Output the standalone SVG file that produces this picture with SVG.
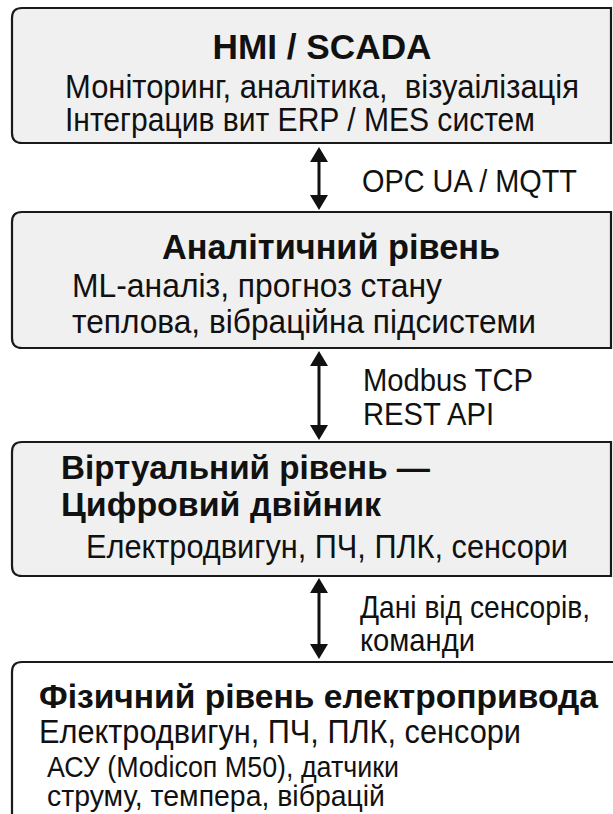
<svg xmlns="http://www.w3.org/2000/svg" width="613" height="814" viewBox="0 0 613 814">
<style>
.box{fill:#f0f0f0;stroke:#1a1a1a;stroke-width:2.2}
.box4{fill:#ffffff}
.edge{fill:none;stroke:#1a1a1a;stroke-width:2.2}
.t{font-family:"Liberation Sans",Arial,sans-serif;font-size:32.5px;fill:#111}
.l{font-family:"Liberation Sans",Arial,sans-serif;font-size:30.5px;fill:#111}
.s{font-family:"Liberation Sans",Arial,sans-serif;font-size:29px;fill:#111}
.b{font-family:"Liberation Sans",Arial,sans-serif;font-size:35px;font-weight:bold;fill:#111}
.b2{font-family:"Liberation Sans",Arial,sans-serif;font-size:33px;font-weight:bold;fill:#111}
.conn line{stroke:#111;stroke-width:3}
.conn path{fill:#111}
</style>
<g id="hmi">
<path class="box" d="M22 8 H611 V143 H22 Q12 143 12 133 V18 Q12 8 22 8 Z"/>
<text class="b" x="322" y="59" text-anchor="middle" textLength="219" lengthAdjust="spacingAndGlyphs">HMI / SCADA</text>
<text class="t" x="65" y="98" xml:space="preserve" textLength="514" lengthAdjust="spacingAndGlyphs">Моніторинг, аналітика,  візуаілізація</text>
<text class="t" x="65" y="131" textLength="470" lengthAdjust="spacingAndGlyphs">Інтеграцив вит ERP / MES систем</text>
</g>
<g id="analytic">
<path class="box" d="M22 212 H611 V348 H22 Q12 348 12 338 V222 Q12 212 22 212 Z"/>
<text class="b" x="331" y="259" text-anchor="middle" textLength="338" lengthAdjust="spacingAndGlyphs">Аналітичний рівень</text>
<text class="t" x="72" y="297" textLength="370" lengthAdjust="spacingAndGlyphs">ML-аналіз, прогноз стану</text>
<text class="t" x="72" y="333" textLength="464" lengthAdjust="spacingAndGlyphs">теплова, вібраційна підсистеми</text>
</g>
<g id="virtual">
<path class="box" d="M22 442 H611 V576 H22 Q12 576 12 566 V452 Q12 442 22 442 Z"/>
<text class="b2" x="61" y="479" textLength="369" lengthAdjust="spacingAndGlyphs">Віртуальний рівень —</text>
<text class="b2" x="61" y="516" textLength="320" lengthAdjust="spacingAndGlyphs">Цифровий двійник</text>
<text class="t" x="86" y="558" textLength="482" lengthAdjust="spacingAndGlyphs">Електродвигун, ПЧ, ПЛК, сенсори</text>
</g>
<g id="physical">
<rect class="box4" x="13" y="663" width="600" height="160"/>
<path class="edge" d="M22 662 H614 M12 820 V672 Q12 662 22 662"/>
<text class="b2" x="39" y="708" textLength="559" lengthAdjust="spacingAndGlyphs">Фізичний рівень електропривода</text>
<text class="t" x="39" y="743" textLength="482" lengthAdjust="spacingAndGlyphs">Електродвигун, ПЧ, ПЛК, сенсори</text>
<text class="s" x="47" y="777" textLength="352" lengthAdjust="spacingAndGlyphs">АСУ (Modicoп M50), датчики</text>
<text class="s" x="47" y="806" textLength="338" lengthAdjust="spacingAndGlyphs">струму, темпера, вібрацій</text>
</g>
<g id="connectors" class="conn">
<line x1="319" y1="160" x2="319" y2="196"/>
<path d="M319 147 L310 162 L328 162 Z"/>
<path d="M319 210 L310 195 L328 195 Z"/>
<line x1="319" y1="364" x2="319" y2="426"/>
<path d="M319 351 L310 366 L328 366 Z"/>
<path d="M319 440 L310 425 L328 425 Z"/>
<line x1="319" y1="591" x2="319" y2="646"/>
<path d="M319 578 L310 593 L328 593 Z"/>
<path d="M319 659 L310 644 L328 644 Z"/>
<text class="l" x="362" y="192" textLength="215" lengthAdjust="spacingAndGlyphs">OPC UA / MQTT</text>
<text class="l" x="363" y="391" textLength="170" lengthAdjust="spacingAndGlyphs">Modbus TCP</text>
<text class="l" x="363" y="425" textLength="131" lengthAdjust="spacingAndGlyphs">REST API</text>
<text class="l" x="360" y="618" textLength="230" lengthAdjust="spacingAndGlyphs">Дані від сенсорів,</text>
<text class="l" x="360" y="651" textLength="115" lengthAdjust="spacingAndGlyphs">команди</text>
</g>
</svg>
